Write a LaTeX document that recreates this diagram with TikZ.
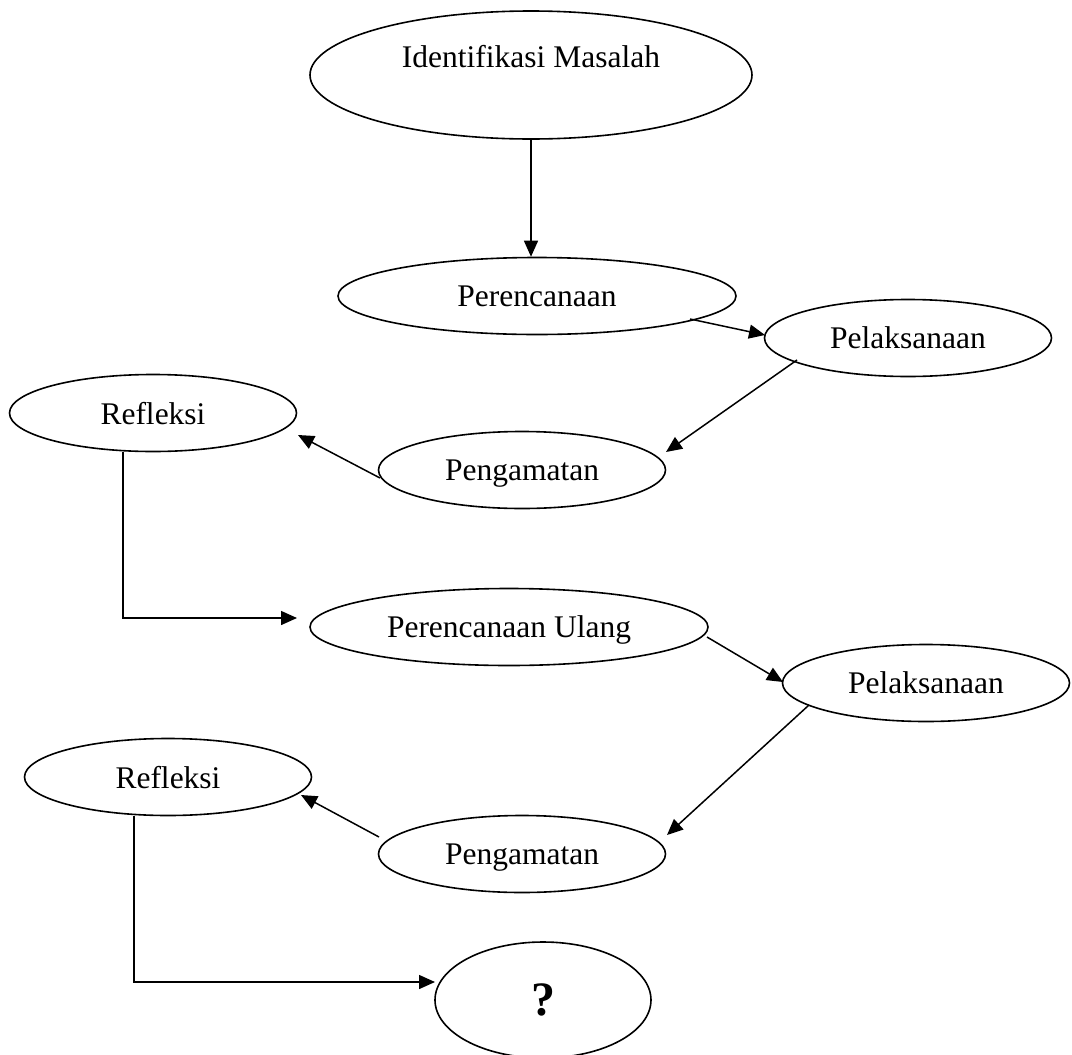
\documentclass[tikz,border=0pt]{standalone}
\usepackage{fontspec}
\setmainfont{Liberation Serif}
\usetikzlibrary{shapes.geometric,arrows.meta}
\begin{document}
\begin{tikzpicture}[x=0.5pt,y=-0.5pt,
  font=\fontsize{15.75}{19}\selectfont,
  oval/.style={draw, ellipse, inner sep=0pt, line width=0.8pt, text depth=0pt},
  small/.style={oval, minimum width=143.5pt, minimum height=38.5pt},
  wide/.style={oval, minimum width=199pt, minimum height=38.5pt},
  conn/.style={line width=0.75pt, -{Triangle[length=8pt,width=7pt]}}]
\useasboundingbox (0,0) rectangle (1072,1055);

\node[oval, minimum width=221pt, minimum height=64pt,
      label={[yshift=9pt]center:Identifikasi Masalah}] (im) at (531,75) {};
\node[wide] (per) at (537,296) {Perencanaan};
\node[small] (pel1) at (908,338) {Pelaksanaan};
\node[small] (pen1) at (522,470) {Pengamatan};
\node[small] (ref1) at (153,413) {Refleksi};
\node[wide] (peru) at (509,627) {Perencanaan Ulang};
\node[small] (pel2) at (926,683) {Pelaksanaan};
\node[small] (ref2) at (168,777) {Refleksi};
\node[small] (pen2) at (522,854) {Pengamatan};
\node[oval, minimum width=108pt, minimum height=58pt,
      font=\fontsize{24}{28}\selectfont\bfseries] (q) at (543,1000) {?};

\draw[conn] (im.south) -- (im.south |- per.north);
\draw[conn] ([shift={(153,23)}]per.center) -- ([shift={(-143,-3)}]pel1.center);
\draw[conn] ([shift={(-111,22)}]pel1.center) -- ([shift={(144,-18)}]pen1.center);
\draw[conn] ([shift={(-142,8)}]pen1.center) -- ([shift={(145,22)}]ref1.center);
\draw[conn] ([shift={(-30,39)}]ref1.center) |- ([shift={(-212,-9)}]peru.center);
\draw[conn] ([shift={(198,10)}]peru.center) -- ([shift={(-143,-1)}]pel2.center);
\draw[conn] ([shift={(-117,22)}]pel2.center) -- ([shift={(145,-19)}]pen2.center);
\draw[conn] ([shift={(-143,-17)}]pen2.center) -- ([shift={(133,18)}]ref2.center);
\draw[conn] ([shift={(-34,39)}]ref2.center) |- ([shift={(-108,-18)}]q.center);
\end{tikzpicture}
\end{document}
